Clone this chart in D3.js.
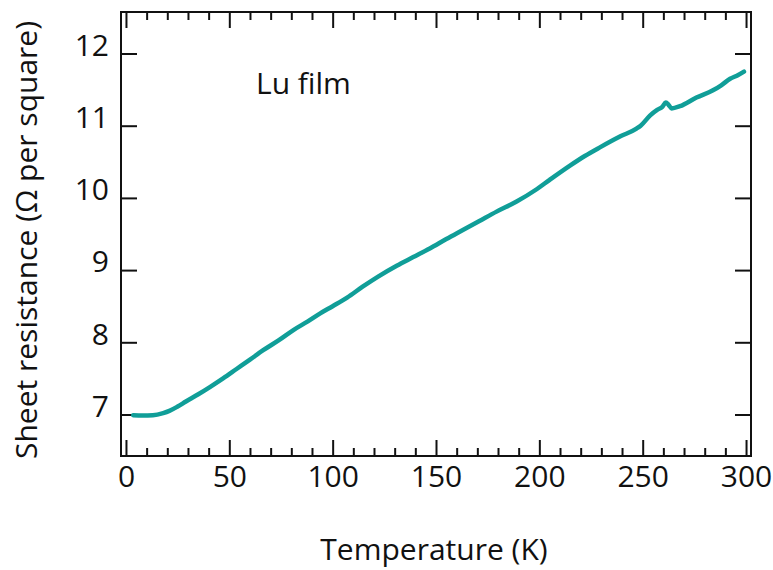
<!DOCTYPE html>
<html>
<head>
<meta charset="utf-8">
<script src="https://cdn.jsdelivr.net/npm/d3@7"></script>
<style>
  body { margin: 0; background: #fff; }
  text { font-family: "Open Sans", "Noto Sans", sans-serif; fill: #111; }
</style>
</head>
<body>
<div id="chart"></div>
<script>
// Values
var temps = [3.5, 8, 13, 18, 21, 25, 29, 35, 40.6, 47, 53.5, 60, 66.4, 74, 81, 88, 94, 100,
  107, 114.5, 122, 131, 139, 147, 155, 163, 171, 179.3, 189, 198.7, 205, 215, 222, 229.3,
  239, 247, 249, 253.5, 257, 259.5, 261.2, 262.5, 264, 268, 276, 284, 288, 292.3, 296, 299];
var resist = [6.99, 6.985, 6.99, 7.02, 7.05, 7.11, 7.18, 7.28, 7.38, 7.5, 7.63, 7.76, 7.89,
  8.03, 8.17, 8.29, 8.40, 8.50, 8.62, 8.77, 8.91, 9.06, 9.18, 9.30, 9.43, 9.555, 9.68, 9.81,
  9.95, 10.12, 10.25, 10.45, 10.58, 10.70, 10.85, 10.96, 11.0, 11.14, 11.22, 11.26, 11.32,
  11.29, 11.24, 11.27, 11.39, 11.49, 11.56, 11.65, 11.70, 11.75];

var xMajor = [0, 50, 100, 150, 200, 250, 300];
var xMinor = d3.range(0, 301, 10).filter(d => d % 50 !== 0);
var yMajor = [7, 8, 9, 10, 11, 12];

var svgWidth = 773;
var svgHeight = 570;

// plot frame in pixels
var frame = { left: 121, right: 751, top: 12, bottom: 456 };

var svg = d3.select("#chart")
  .append("svg")
  .attr("width", svgWidth)
  .attr("height", svgHeight);

var x = d3.scaleLinear().domain([-2.4, 302.4]).range([frame.left, frame.right]);
var y = d3.scaleLinear().domain([6.425, 12.575]).range([frame.bottom, frame.top]);

function styleAxis(g) {
  g.select(".domain").remove();
  g.selectAll("line").attr("stroke", "#111").attr("stroke-width", 2);
  g.selectAll("text").style("font-size", "30px").attr("fill", "#111");
}

// bottom axis
svg.append("g")
  .attr("transform", `translate(0, ${frame.bottom})`)
  .call(d3.axisBottom(x).tickValues(xMajor).tickFormat(d3.format("d"))
    .tickSize(-16).tickSizeOuter(0).tickPadding(10))
  .call(styleAxis);
svg.append("g")
  .attr("transform", `translate(0, ${frame.bottom})`)
  .call(d3.axisBottom(x).tickValues(xMinor).tickSize(-8).tickSizeOuter(0).tickFormat(""))
  .call(styleAxis);

// top axis
svg.append("g")
  .attr("transform", `translate(0, ${frame.top})`)
  .call(d3.axisTop(x).tickValues(xMajor).tickSize(-16).tickSizeOuter(0).tickFormat(""))
  .call(styleAxis);
svg.append("g")
  .attr("transform", `translate(0, ${frame.top})`)
  .call(d3.axisTop(x).tickValues(xMinor).tickSize(-8).tickSizeOuter(0).tickFormat(""))
  .call(styleAxis);

// left axis
var yAxisLeft = svg.append("g")
  .attr("transform", `translate(${frame.left}, 0)`)
  .call(d3.axisLeft(y).tickValues(yMajor).tickFormat(d3.format("d"))
    .tickSize(-16).tickSizeOuter(0).tickPadding(12))
  .call(styleAxis);
yAxisLeft.selectAll("text").attr("dy", "0.06em");

// right axis
svg.append("g")
  .attr("transform", `translate(${frame.right}, 0)`)
  .call(d3.axisRight(y).tickValues(yMajor).tickSize(-16).tickSizeOuter(0).tickFormat(""))
  .call(styleAxis);

// frame
svg.append("rect")
  .attr("x", frame.left)
  .attr("y", frame.top)
  .attr("width", frame.right - frame.left)
  .attr("height", frame.bottom - frame.top)
  .attr("fill", "none")
  .attr("stroke", "#111")
  .attr("stroke-width", 2);

// curve
var line = d3.line()
  .x((d, i) => x(temps[i]))
  .y(d => y(d))
  .curve(d3.curveMonotoneX);

svg.append("path")
  .datum(resist)
  .attr("d", line)
  .attr("fill", "none")
  .attr("stroke", "#109e98")
  .attr("stroke-width", 4.5)
  .attr("stroke-linejoin", "round")
  .attr("stroke-linecap", "round");

// labels
svg.append("text")
  .attr("x", 256)
  .attr("y", 94)
  .style("font-size", "30px")
  .text("Lu film");

svg.append("text")
  .attr("x", 434)
  .attr("y", 560)
  .attr("text-anchor", "middle")
  .style("font-size", "30px")
  .text("Temperature (K)");

svg.append("text")
  .attr("transform", "translate(37, 240) rotate(-90)")
  .attr("text-anchor", "middle")
  .style("font-size", "30px")
  .text("Sheet resistance (Ω per square)");
</script>
</body>
</html>
